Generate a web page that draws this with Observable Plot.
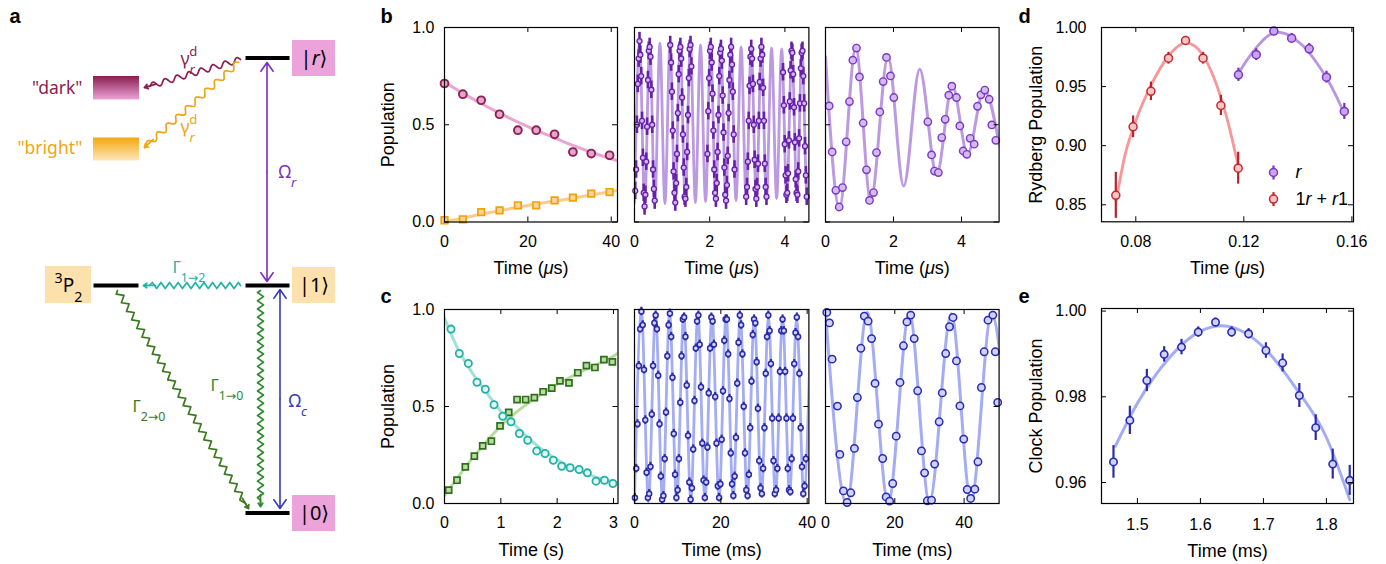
<!DOCTYPE html>
<html><head><meta charset="utf-8">
<script src="https://cdn.jsdelivr.net/npm/d3@7"></script>
<script src="https://cdn.jsdelivr.net/npm/@observablehq/plot@0.6"></script>
<style>
body{margin:0;background:#fff;}
#fig{position:relative;width:1386px;height:564px;overflow:hidden;background:#fff;}
#fig svg{position:absolute;}
</style></head><body><div id="fig"></div>
<script>
// ---------------- DATA ----------------
// panel b1
const b1Time = [0,4.4,8.8,13.2,17.6,22,26.4,30.8,35.2,39.6];
const b1Dark = [.712,.657,.626,.554,.472,.472,.451,.36,.352,.343];
const b1Bright = [.009,.014,.051,.06,.086,.086,.111,.125,.146,.154];
const b1DarkFit = [[0,.72],[5,.655],[10,.595],[15,.54],[20,.49],[25,.445],[30,.40],[35,.36],[40,.325],[41.5,.315]];
const b1BrightFit = [[0,.0],[10,.045],[20,.085],[30,.12],[41.5,.163]];
// panel b2
const b2Time = [.020,.043,.065,.088,.110,.133,.155,.178,.200,.223,.245,.268,.290,.313,.335,.358,.380,.403,.425,.448,.470,.493,.515,.538,
 .950,.973,.995,1.018,1.040,1.063,1.085,1.108,1.130,1.153,1.175,1.198,1.220,1.243,1.265,1.288,1.310,1.333,1.355,1.378,1.400,1.423,1.445,1.468,1.490,1.513,
 1.940,1.963,1.985,2.008,2.030,2.053,2.075,2.098,2.120,2.143,2.165,2.188,2.210,2.233,2.255,2.278,2.300,2.323,2.345,2.368,2.390,2.413,2.435,2.458,2.480,2.503,2.525,2.548,2.570,2.593,2.615,2.638,2.660,
 2.970,2.993,3.015,3.038,3.060,3.083,3.105,3.128,3.150,3.173,3.195,3.218,3.240,3.263,3.285,3.308,3.330,3.353,3.375,3.398,3.420,3.443,3.465,3.488,3.510,
 3.950,3.973,3.995,4.018,4.040,4.063,4.085,4.108,4.130,4.153,4.175,4.198,4.220,4.243,4.265,4.288,4.310,4.333,4.355,4.378,4.400,4.423,4.445,4.468,4.490,4.513,4.535,4.558,4.580];
const b2Pop = [.16,.27,.50,.71,.84,.93,.86,.75,.52,.33,.15,.08,.14,.31,.49,.73,.88,.90,.85,.68,.50,.27,.17,.11,
 .91,.82,.67,.47,.26,.15,.10,.20,.35,.56,.76,.88,.90,.84,.64,.45,.28,.13,.12,.18,.36,.55,.74,.89,.91,.80,
 .35,.57,.74,.88,.90,.82,.66,.47,.27,.15,.12,.20,.36,.55,.75,.87,.89,.83,.65,.46,.28,.14,.11,.19,.34,.56,.73,.86,.90,.81,.67,.45,.27,
 .13,.18,.31,.52,.70,.85,.89,.84,.71,.50,.32,.17,.12,.18,.30,.52,.72,.84,.90,.86,.69,.52,.30,.18,.13,
 .77,.60,.40,.24,.14,.15,.25,.42,.62,.78,.88,.87,.76,.59,.41,.22,.15,.14,.26,.43,.61,.79,.87,.88,.75,.61,.39,.24,.13];
const b2Err = 0.045;
const b2Fit = [[0,.10],[.135,.925],[.27,.09],[.405,.925],[.54,.09],[.675,.92],[.81,.095],[.945,.92],[1.08,.095],[1.215,.915],[1.35,.10],[1.485,.915],
 [1.62,.10],[1.755,.91],[1.89,.105],[2.025,.91],[2.16,.105],[2.295,.905],[2.43,.11],[2.565,.905],[2.70,.11],[2.835,.90],[2.97,.115],[3.105,.90],
 [3.24,.115],[3.375,.895],[3.51,.12],[3.645,.895],[3.78,.12],[3.915,.89],[4.05,.125],[4.185,.89],[4.32,.125],[4.455,.885],[4.59,.13],[4.725,.885]];
// panel b3
const b3Time = [0.108,0.196,0.304,0.402,0.5,0.608,0.706,0.804,0.912,1.0,1.108,1.206,1.294,1.412,1.5,1.598,1.696,1.794,1.912,2.01,
 3.01,3.12,3.206,3.32,3.42,3.52,3.627,3.716,3.853,3.951,4.05,4.157,4.255,4.373,4.471,4.57,4.686,4.814,4.892,5.01];
const b3Pop = [.597,.36,.163,.077,.177,.412,.619,.832,.894,.746,.509,.268,.111,.151,.357,.566,.722,.846,.751,.64,
 .515,.345,.262,.254,.434,.528,.652,.698,.64,.494,.365,.348,.43,.40,.595,.654,.678,.631,.499,.42];
const b3Fit = [[0,.85],[0.41,.075],[0.89,.895],[1.33,.11],[1.84,.85],[2.3,.185],[2.77,.785],[3.27,.245],[3.73,.70],[4.18,.35],[4.66,.68],[5.12,.39]];
// panel c1
const c1CircT = [.115,.263,.423,.577,.725,.879,1.034,1.18,1.329,1.477,1.637,1.785,1.932,2.08,2.23,2.39,2.536,2.69,2.84,2.99];
const c1CircV = [.899,.773,.722,.625,.589,.509,.45,.421,.361,.326,.271,.258,.223,.192,.184,.175,.158,.115,.12,.103];
const c1SqT = [.074,.222,.37,.53,.678,.832,.986,1.14,1.288,1.44,1.595,1.75,1.904,2.05,2.21,2.366,2.52,2.67,2.83,2.98];
const c1SqV = [.069,.12,.189,.244,.297,.321,.40,.47,.536,.536,.546,.576,.595,.632,.622,.674,.711,.701,.742,.73];
const c1CircFit = [[0,.955],[0.25,.79],[0.5,.67],[0.75,.57],[1,.475],[1.25,.405],[1.5,.335],[1.75,.275],[2,.225],[2.25,.185],[2.5,.155],[2.75,.13],[3.08,.105]];
const c1SqFit = [[0,.04],[0.25,.14],[0.5,.235],[0.75,.32],[1,.40],[1.25,.465],[1.5,.52],[1.75,.57],[2,.615],[2.5,.69],[3,.76],[3.08,.775]];
// panel c2
const c2Time = [0.1,0.4,0.7,1.0,1.3,1.6,1.9,2.2,2.5,2.8,3.1, 3.4,3.7,4.0,4.3,4.6,4.9,5.2,5.5,5.8,6.1,6.4,
 6.7,7.0,7.3,7.6,7.9,8.2,8.5,8.8,9.1,9.4,9.7, 10.0,10.3,10.6,10.9,11.2,11.5,11.8,12.1,12.4,12.7,13.0,
 13.3,13.6,13.9,14.2,14.5,14.8,15.1,15.4,15.7,16.0,16.3, 16.6,16.9,17.2,17.5,17.8,18.1,18.4,18.7,19.0,19.3,19.6,
 19.9,20.2,20.5,20.8,21.1,21.4,21.7,22.0,22.3,22.6,22.9, 23.2,23.5,23.8,24.1,24.4,24.7,25.0,25.3,25.6,25.9,26.2,
 26.5,26.8,27.1,27.4,27.7,28.0,28.3,28.6,28.9,29.2,29.5, 29.8,30.1,30.4,30.7,31.0,31.3,31.6,31.9,32.2,32.5,32.8,
 33.1,33.4,33.7,34.0,34.3,34.6,34.9,35.2,35.5,35.8,36.1, 36.4,36.7,37.0,37.3,37.6,37.9,38.2,38.5,38.8,39.1,39.4, 39.7];
const c2Pop = [.03,.18,.41,.71,.90,.99,.92,.69,.43,.16,.03, .05,.19,.46,.71,.93,.97,.90,.66,.41,.14,.02,
 .04,.23,.47,.76,.92,.98,.86,.65,.36,.15,.03, .07,.23,.52,.76,.95,.96,.86,.61,.35,.11,.02,
 .08,.28,.53,.80,.94,.97,.82,.60,.31,.12,.03, .11,.29,.57,.80,.96,.94,.82,.55,.31,.09,.03,
 .10,.33,.58,.84,.95,.95,.77,.54,.26,.10,.04, .14,.34,.62,.83,.97,.92,.77,.50,.26,.07,.04,
 .15,.39,.63,.87,.95,.93,.73,.49,.22,.08,.05, .18,.39,.67,.86,.97,.89,.72,.44,.22,.05,.07,
 .18,.44,.68,.89,.95,.89,.68,.44,.18,.07,.06, .23,.44,.72,.88,.96,.86,.67,.39,.19,.05,.09, .23];
const c2Err = 0.022;
const c2Fit = [[0,.01],[1.6,.99],[3.235,.01],[4.87,.985],[6.505,.013],[8.14,.982],[9.775,.016],[11.41,.978],[13.045,.02],[14.68,.975],
 [16.315,.024],[17.95,.972],[19.585,.028],[21.22,.968],[22.855,.032],[24.49,.965],[26.125,.036],[27.76,.962],[29.395,.04],[31.03,.958],
 [32.665,.043],[34.3,.955],[35.935,.047],[37.57,.952],[39.205,.05],[40.84,.948]];
// panel c3
const c3Time = [.37,1.15,1.91,3.45,4.14,5.18,6.24,7.3,8.35,9.2,10.2,11.2,12.3,13.3,14.3,15.3,16.5,17.5,18.5,19.4,20.4,21.5,22.5,23.5,
 24.6,25.6,26.6,27.7,28.6,29.4,30.6,31.5,32.8,33.7,34.7,35.8,36.8,37.8,38.8,39.9,40.9,41.9,43.1,44.0,45.0,45.8,46.9,48.3,49.0,49.7];
const c3Pop = [.985,.931,.744,.502,.253,.065,.005,.055,.284,.546,.80,.966,.94,.85,.619,.409,.232,.034,.012,.103,.347,.624,.813,.936,
 .971,.85,.581,.271,.158,.014,.017,.203,.421,.57,.773,.911,.959,.735,.503,.332,.072,.026,.074,.215,.598,.782,.945,.971,.782,.521];
const c3Fit = [[0,.99],[6.1,.0],[12.05,.985],[18.1,.005],[24.2,.98],[30.0,.008],[36.3,.978],[42.0,.012],[47.9,.975],[53.9,.02]];
// panel d
const dRedT = [.0726,.079,.0856,.0921,.0984,.1049,.1115,.1179];
const dRedV = [.858,.916,.946,.974,.989,.974,.934,.881];
const dRedE = [.0195,.0092,.0078,.005,.003,.005,.0085,.0135];
const dPurT = [.118,.1246,.1311,.1377,.1442,.1506,.1572];
const dPurV = [.960,.977,.997,.991,.982,.958,.929];
const dPurE = [.0056,.005,.003,.004,.0045,.005,.0068];
const dRedFit = [[0.0727,.853],[0.076,.892],[0.08,.921],[0.085,.948],[0.09,.969],[0.095,.983],[0.0985,.987],[0.102,.984],[0.106,.972],[0.11,.951],[0.114,.921],[0.118,.882]];
const dPurFit = [[0.118,.961],[0.121,.972],[0.125,.984],[0.129,.993],[0.132,.996],[0.135,.995],[0.139,.99],[0.143,.982],[0.147,.97],[0.151,.956],[0.154,.943],[0.157,.928]];
const dLegend = [{key:"*r*", x:6, y:6, stroke:"#7b34c4", fill:"#c9a6ec"},{key:"1*r* + *r*1", x:6, y:32.6, stroke:"#c0282e", fill:"#fac4c4"}];
// panel e
const eTime = [1.462,1.488,1.515,1.5425,1.570,1.5965,1.624,1.6495,1.6765,1.704,1.7305,1.757,1.783,1.81,1.837];
const ePop = [.9648,.9745,.9838,.9899,.9916,.9951,.9974,.9951,.9947,.9908,.9879,.9803,.9728,.9643,.9605];
const eErr = [.0038,.0033,.0026,.0018,.0018,.0012,.001,.0012,.0012,.0018,.0021,.0028,.003,.0035,.0035];
const eFit = [[1.465,.9685],[1.5,.9785],[1.55,.989],[1.6,.9953],[1.635,.9966],[1.67,.995],[1.7,.9916],[1.75,.9823],[1.8,.9705],[1.837,.956]];
// panel a (level diagram, in figure pixels)
const aLevels = [{x1:245,x2:289,y:57.5},{x1:245,x2:289,y:285},{x1:93,x2:138,y:285},{x1:245,x2:289,y:512.5}];
const aBoxes = [
 {x1:292,x2:335,y1:40,y2:76,fill:"#eba3d9"},
 {x1:292,x2:335,y1:267,y2:303,fill:"#fde1ad"},
 {x1:292,x2:335,y1:495,y2:531,fill:"#eba3d9"},
 {x1:45,x2:91,y1:266,y2:303,fill:"#fde1ad"},
 {x1:93,x2:139,y1:76,y2:99.5,fill:"url(#gDark)"},
 {x1:93,x2:139,y1:137.5,y2:160.5,fill:"url(#gBright)"}];
const aWaves = [
 {x1:240,y1:59,x2:144,y2:87,kind:"sine",wl:12.5,amp:2.8,color:"#8b1e50"},
 {x1:238,y1:62,x2:144,y2:147,kind:"sine",wl:13,amp:2.8,color:"#f0a512"},
 {x1:240,y1:285,x2:143,y2:285,kind:"zig",wl:8.6,amp:3,color:"#22b2a6"},
 {x1:260,y1:290,x2:260,y2:506,kind:"zig",wl:8.2,amp:3,color:"#2e8b2e"},
 {x1:117,y1:290,x2:248,y2:508,kind:"zig",wl:10,amp:3,color:"#3b7a1e"}];
const aArrows = [{x1:266.5,y1:62,x2:266.5,y2:281,color:"#7b2fbe"},{x1:279.5,y1:289,x2:279.5,y2:508,color:"#3a3ab8"}];
const aLabels = [
 {text:'"dark"', x:82, y:88, size:17.5, color:"#8b1e50", anchor:"end"},
 {text:'"bright"', x:82, y:148, size:17.5, color:"#f0a512", anchor:"end"},
 {text:"γ_{*r*}^{d}", x:180, y:59, size:17.5, color:"#8b1e50", anchor:"start"},
 {text:"γ_{*r*}^{d}", x:180, y:127, size:17.5, color:"#f0a512", anchor:"start"},
 {text:"Ω_{*r*}", x:278, y:172, size:17.5, color:"#7b2fbe", anchor:"start"},
 {text:"Γ_{1→2}", x:172, y:267, size:16.5, color:"#22b2a6", anchor:"start"},
 {text:"Γ_{1→0}", x:210, y:385, size:16.5, color:"#2e8b2e", anchor:"start"},
 {text:"Γ_{2→0}", x:132, y:406, size:16.5, color:"#3b7a1e", anchor:"start"},
 {text:"Ω_{*c*}", x:288, y:401, size:17.5, color:"#3a3ab8", anchor:"start"},
 {text:"|*r*⟩", x:313.5, y:58, size:20, color:"black", anchor:"middle"},
 {text:"|1⟩", x:313.5, y:285, size:20, color:"black", anchor:"middle"},
 {text:"|0⟩", x:313.5, y:513, size:20, color:"black", anchor:"middle"},
 {text:"^{3}P_{2}", x:68, y:285, size:19, color:"black", anchor:"middle"}];
const panelLetters = [{t:"a",x:9,y:22.7},{t:"b",x:380,y:22.5},{t:"c",x:380,y:302},{t:"d",x:1018,y:22.7},{t:"e",x:1018,y:302.5}];

// ---------------- DRAWING ----------------
const fig = document.getElementById("fig");
const FONT = '"Liberation Sans", Arial, Helvetica, sans-serif';
const AFONT = '"Noto Sans", "DejaVu Sans", sans-serif';
const SVGNS = "http://www.w3.org/2000/svg";

function rich(svg){
  d3.select(svg).selectAll("text").each(function(){
    const s = this.textContent;
    if(!/[_^*]/.test(s)) return;
    const toks = s.match(/(_\{[^}]*\}|\^\{[^}]*\}|\*[^*]*\*|[^_^*]+)/g) || [];
    this.textContent = "";
    let prev = null;
    for (const m of toks){
      const ts = document.createElementNS(SVGNS,"tspan");
      let c = m, shift = null;
      if (m.startsWith("_{")) {shift="sub"; c=m.slice(2,-1);}
      else if (m.startsWith("^{")) {shift="super"; c=m.slice(2,-1);}
      let ital = false;
      if (c.length>1 && c.startsWith("*") && c.endsWith("*")) {ital=true; c=c.slice(1,-1);}
      ts.textContent = c;
      if (shift){ ts.setAttribute("baseline-shift", shift); ts.setAttribute("font-size","75%"); }
      if (ital) ts.setAttribute("font-style","italic");
      if (shift==="super" && prev && prev.shift==="sub") ts.setAttribute("dx", `-${(prev.len*0.42).toFixed(2)}em`);
      this.appendChild(ts);
      prev = {shift, len:c.length};
    }
  });
}

const pairs = (T,V,E) => T.map((t,i)=>[t,V[i], E===undefined?0:(typeof E==="number"?E:E[i])]);
const fitLine = (F,stroke,w=3) => Plot.line(F,{x:d=>d[0],y:d=>d[1],stroke,strokeWidth:w,curve:"monotone-x",clip:true,strokeLinecap:"round"});
const dots = (T,V,opt) => Plot.dot(pairs(T,V),{x:d=>d[0],y:d=>d[1],...opt});
const errs = (T,V,E,opt) => Plot.ruleX(pairs(T,V,E),{x:d=>d[0],y1:d=>d[1]-d[2],y2:d=>d[1]+d[2],...opt});

function panel(o){
  const mL=80,mR=14,mT=14,mB=62;
  const {left,top,w,h}=o;
  const marks=[...o.marks,
    Plot.ruleX(o.xTicks,{x:d=>d,insetTop:h-5,stroke:"black",strokeWidth:1}),
    Plot.ruleX(o.xTicks,{x:d=>d,insetBottom:h-5,stroke:"black",strokeWidth:1}),
    Plot.ruleY(o.yTicks,{y:d=>d,insetRight:w-5,stroke:"black",strokeWidth:1}),
    Plot.ruleY(o.yTicks,{y:d=>d,insetLeft:w-5,stroke:"black",strokeWidth:1}),
    Plot.frame({stroke:"black",strokeWidth:1.2}),
    Plot.axisX(o.xTicks,{tickSize:0,tickPadding:o.xPad,tickFormat:o.xFmt,label:null,fontSize:16}),
    Plot.text([o.xLabel],{text:d=>d,frameAnchor:"bottom",dy:o.xLabelDy,lineAnchor:"middle",textAnchor:"middle",fontSize:18})
  ];
  if (o.showY){
    marks.push(Plot.axisY(o.yTicks,{tickSize:0,tickPadding:o.yPad,tickFormat:o.yFmt,label:null,fontSize:16}));
    marks.push(Plot.text([o.yLabel],{text:d=>d,frameAnchor:"left",dx:-o.yLabelDx,rotate:-90,textAnchor:"middle",lineAnchor:"middle",fontSize:18}));
  }
  const svg = Plot.plot({width:w+mL+mR,height:h+mT+mB,marginLeft:mL,marginRight:mR,marginTop:mT,marginBottom:mB,
    style:{background:"transparent",overflow:"visible",fontFamily:FONT,fontSize:"16px",color:"black"},
    x:{domain:o.xDomain}, y:o.showY?{domain:o.yDomain}:{domain:o.yDomain,axis:null}, marks});
  svg.style.position="absolute"; svg.style.left=(left-mL)+"px"; svg.style.top=(top-mT)+"px";
  rich(svg);
  fig.appendChild(svg);
  return svg;
}

const f1 = d3.format(".1f"), f2 = d3.format(".2f");
const B_TOP=26.5, B_H=194.5, C_TOP=309.3, C_H=194;
const common = {yDomain:[0,1], yTicks:[0,0.5,1], yFmt:f1, yPad:10, yLabel:"Population", yLabelDx:56};
const bRow = {top:B_TOP, h:B_H, xPad:14, xLabel:"Time (*μ*s)", xLabelDy:46};
const cRow = {top:C_TOP, h:C_H, xPad:13, xLabelDy:46.5};

// b1
panel({...common, ...bRow, left:444, w:173, xDomain:[0,41.5], xTicks:[0,20,40], showY:true,
  marks:[fitLine(b1DarkFit,"#e9a6d2"), fitLine(b1BrightFit,"#f9cb8e"),
    dots(b1Time,b1Bright,{symbol:"square",r:3.7,fill:"#f8d49c",stroke:"#f0a20a",strokeWidth:1.7}),
    dots(b1Time,b1Dark,{r:3.9,fill:"#e3a6cd",stroke:"#8e1f52",strokeWidth:1.9})]});
// b2
panel({...common, ...bRow, left:634.3, w:174.4, xDomain:[0,4.638], xTicks:[0,2,4], showY:false,
  marks:[fitLine(b2Fit,"#bc9ae2",2.8),
    errs(b2Time,b2Pop,b2Err,{stroke:"#6620aa",strokeWidth:2.6}),
    dots(b2Time,b2Pop,{r:2.5,fill:"#d2b4f0",stroke:"#6620aa",strokeWidth:1.3})]});
// b3
panel({...common, ...bRow, left:824.7, w:173.6, xDomain:[0,5.106], xTicks:[0,2,4], showY:false,
  marks:[fitLine(b3Fit,"#bc9ae2",3),
    dots(b3Time,b3Pop,{r:3.7,fill:"#d4baee",stroke:"#7a38c2",strokeWidth:1.4})]});
// c1
panel({...common, ...cRow, left:443.5, w:173.5, xDomain:[0,3.08], xTicks:[0,1,2,3], showY:true, xLabel:"Time (s)",
  marks:[fitLine(c1SqFit,"#b8dc9e"), fitLine(c1CircFit,"#9fe0d8"),
    dots(c1SqT,c1SqV,{symbol:"square",r:3.4,fill:"#b9dca0",stroke:"#2f6f1c",strokeWidth:1.7}),
    dots(c1CircT,c1CircV,{r:3.6,fill:"#e2f6f3",stroke:"#22b2a6",strokeWidth:1.8})]});
// c2
panel({...common, ...cRow, left:634.3, w:174.4, xDomain:[0,40.4], xTicks:[0,20,40], showY:false, xLabel:"Time (ms)",
  marks:[fitLine(c2Fit,"#a3acf5",2.8),
    errs(c2Time,c2Pop,c2Err,{stroke:"#2a2aaa",strokeWidth:2.2}),
    dots(c2Time,c2Pop,{r:2.5,fill:"#d3d6fa",stroke:"#2a2aaa",strokeWidth:1.5})]});
// c3
panel({...common, ...cRow, left:824.7, w:173.6, xDomain:[0,50.1], xTicks:[0,20,40], showY:false, xLabel:"Time (ms)",
  marks:[fitLine(c3Fit,"#a3acf5",3),
    dots(c3Time,c3Pop,{r:3.7,fill:"#cfd3f8",stroke:"#2a2ab0",strokeWidth:1.5})]});
// d
panel({left:1100.7, top:26.7, w:252, h:194.3, xDomain:[0.0673,0.1606], xTicks:[0.08,0.12,0.16], xFmt:f2, yDomain:[0.8356,1.0], yTicks:[0.85,0.9,0.95,1.0], yFmt:f2,
  showY:true, xPad:14, yPad:15, yLabel:"Rydberg Population", yLabelDx:65, xLabel:"Time (*μ*s)", xLabelDy:46,
  marks:[fitLine(dRedFit,"#f79797",2.8), fitLine(dPurFit,"#b996e0",2.8),
    errs(dRedT,dRedV,dRedE,{stroke:"#b82228",strokeWidth:2.2}),
    errs(dPurT,dPurV,dPurE,{stroke:"#7030b8",strokeWidth:2.2}),
    dots(dRedT,dRedV,{r:4,fill:"#fac4c4",stroke:"#c0282e",strokeWidth:1.5}),
    dots(dPurT,dPurV,{r:4,fill:"#c9a6ec",stroke:"#7b34c4",strokeWidth:1.5})]});
// e
panel({left:1101, top:308.3, w:252, h:195, xDomain:[1.443,1.843], xTicks:[1.5,1.6,1.7,1.8], xFmt:f1, yDomain:[0.9551,1.0006], yTicks:[0.96,0.98,1.0], yFmt:f2,
  showY:true, xPad:15, yPad:15, yLabel:"Clock Population", yLabelDx:65, xLabel:"Time (ms)", xLabelDy:47.5,
  marks:[fitLine(eFit,"#a3acf5",3),
    errs(eTime,ePop,eErr,{stroke:"#2a2ab0",strokeWidth:2.2}),
    dots(eTime,ePop,{r:3.7,fill:"#cfd3f8",stroke:"#2a2ab0",strokeWidth:1.6})]});

// legend for d
{
  const leg = Plot.plot({width:110,height:44,margin:0,x:{domain:[0,110],range:[0,110],axis:null},y:{domain:[0,44],range:[0,44],axis:null},
    color:{type:"identity"}, style:{background:"transparent",overflow:"visible",fontFamily:FONT},
    marks:[
      Plot.link(dLegend,{x1:"x",x2:"x",y1:d=>d.y-7,y2:d=>d.y+7,stroke:"stroke",strokeWidth:2.2}),
      Plot.dot(dLegend,{x:"x",y:"y",r:4,fill:"fill",stroke:"stroke",strokeWidth:1.5}),
      Plot.text(dLegend,{x:d=>d.x+22,y:"y",text:"key",textAnchor:"start",fontSize:18,fill:"black"})
    ]});
  leg.style.position="absolute"; leg.style.left="1267.3px"; leg.style.top="165.7px";
  rich(leg); fig.appendChild(leg);
}

// panel a
function waveGeom(w){
  const dx=w.x2-w.x1, dy=w.y2-w.y1, L=Math.hypot(dx,dy), ux=dx/L, uy=dy/L, nx=-uy, ny=ux;
  const tail=6, Lw=L-tail, pts=[{x:w.x1,y:w.y1}];
  const at=(s,off)=>({x:w.x1+ux*s+nx*off,y:w.y1+uy*s+ny*off});
  if (w.kind==="sine"){
    const n=Math.round(Lw/w.wl*16);
    for(let i=1;i<=n;i++){const s=i/n*Lw; pts.push(at(s,w.amp*Math.sin(2*Math.PI*s/w.wl)));}
  } else {
    for(let k=0;;k++){const s=w.wl/4+k*w.wl/2; if(s>Lw-w.wl/4) break; pts.push(at(s,(k%2?-1:1)*w.amp));}
    pts.push(at(Lw,0));
  }
  pts.push({x:w.x2,y:w.y2});
  const a0 = at(L-12,0);
  return {pts, head:{x1:a0.x,y1:a0.y,x2:w.x2,y2:w.y2}};
}
{
  const lab = (anchor) => Plot.text(aLabels.filter(l=>l.anchor===anchor),{x:"x",y:"y",text:"text",fill:"color",fontSize:"size",textAnchor:anchor});
  const geoms = aWaves.map(waveGeom);
  const halfArrows = aArrows.flatMap(a=>{const mx=(a.x1+a.x2)/2,my=(a.y1+a.y2)/2; return [{x1:mx,y1:my,x2:a.x1,y2:a.y1,color:a.color},{x1:mx,y1:my,x2:a.x2,y2:a.y2,color:a.color}];});
  const svgA = Plot.plot({width:360,height:564,margin:0,
    x:{domain:[0,360],range:[0,360],axis:null}, y:{domain:[0,564],range:[0,564],axis:null}, color:{type:"identity"},
    style:{background:"transparent",overflow:"visible",fontFamily:AFONT},
    marks:[
      Plot.rect(aBoxes,{x1:"x1",x2:"x2",y1:"y1",y2:"y2",fill:"fill"}),
      Plot.link(aLevels,{x1:"x1",x2:"x2",y1:"y",y2:"y",stroke:"black",strokeWidth:4}),
      ...geoms.map((g,i)=>Plot.line(g.pts,{x:"x",y:"y",stroke:aWaves[i].color,strokeWidth:1.7})),
      ...geoms.map((g,i)=>Plot.arrow([g.head],{x1:"x1",y1:"y1",x2:"x2",y2:"y2",stroke:aWaves[i].color,strokeWidth:1.7,headLength:9,headAngle:70})),
      Plot.arrow(halfArrows,{x1:"x1",y1:"y1",x2:"x2",y2:"y2",stroke:"color",strokeWidth:1.6,headLength:10,headAngle:70}),
      lab("end"), lab("start"), lab("middle")
    ]});
  const defs = d3.select(svgA).insert("defs",":first-child");
  const g1 = defs.append("linearGradient").attr("id","gDark").attr("x1",0).attr("y1",0).attr("x2",0).attr("y2",1);
  g1.append("stop").attr("offset","0%").attr("stop-color","#8b1e4e");
  g1.append("stop").attr("offset","100%").attr("stop-color","#eba3d9");
  const g2 = defs.append("linearGradient").attr("id","gBright").attr("x1",0).attr("y1",0).attr("x2",0).attr("y2",1);
  g2.append("stop").attr("offset","0%").attr("stop-color","#f3a80c");
  g2.append("stop").attr("offset","100%").attr("stop-color","#fde6bb");
  svgA.style.position="absolute"; svgA.style.left="0px"; svgA.style.top="0px";
  rich(svgA); fig.appendChild(svgA);
}

// panel letters
{
  const svgL = Plot.plot({width:1386,height:564,margin:0,x:{domain:[0,1386],range:[0,1386],axis:null},y:{domain:[0,564],range:[0,564],axis:null},
    style:{background:"transparent",overflow:"visible",fontFamily:FONT},
    marks:[Plot.text(panelLetters,{x:"x",y:"y",text:"t",textAnchor:"start",lineAnchor:"bottom",fontSize:20,fontWeight:"bold",fill:"black"})]});
  svgL.style.position="absolute"; svgL.style.left="0px"; svgL.style.top="0px"; svgL.style.pointerEvents="none";
  fig.appendChild(svgL);
}
</script></body></html>
